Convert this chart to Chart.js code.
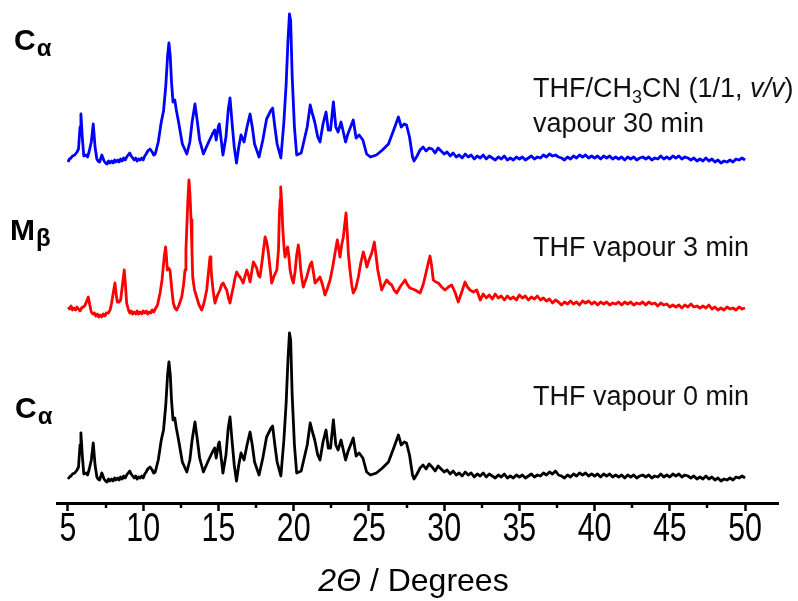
<!DOCTYPE html>
<html><head><meta charset="utf-8">
<script src="https://cdn.jsdelivr.net/npm/chart.js@4.4.1/dist/chart.umd.min.js"></script>
<style>html,body{margin:0;padding:0;background:#fff;overflow:hidden}</style>
</head><body>
<canvas id="c" width="798" height="601"></canvas>
<script>
// ---- data ----
const xTickValues = [5,10,15,20,25,30,35,40,45,50];
const xMinorTicks = [7.5,12.5,17.5,22.5,27.5,32.5,37.5,42.5,47.5];

// C-alpha, THF vapour 0 min (black)
const blackAngles = [5.00,5.10,5.20,5.30,5.45,5.60,5.70,5.80,5.86,5.95,
6.05,6.20,6.30,6.40,6.55,6.68,6.80,6.92,7.00,7.10,
7.25,7.40,7.50,7.60,7.70,7.80,7.90,8.00,8.10,8.20,
8.30,8.40,8.50,8.60,8.70,8.80,8.90,9.00,9.10,9.20,
9.30,9.40,9.50,9.60,9.70,9.80,9.90,10.00,10.10,10.20,
10.30,10.45,10.60,10.70,10.80,11.00,11.20,11.35,11.50,11.62,
11.71,11.80,11.88,11.98,12.10,12.20,12.35,12.60,12.90,13.10,
13.25,13.44,13.60,13.75,14.00,14.20,14.35,14.60,14.75,14.85,
15.00,15.06,15.20,15.30,15.50,15.65,15.77,15.90,16.05,16.20,
16.35,16.50,16.70,16.90,17.10,17.25,17.40,17.70,17.95,18.20,
18.50,18.60,18.75,18.90,19.15,19.35,19.50,19.62,19.72,19.80,
19.90,20.05,20.20,20.50,20.70,20.90,21.10,21.25,21.40,21.60,
21.75,21.95,22.15,22.30,22.45,22.64,22.80,22.95,23.15,23.30,
23.45,23.60,23.96,24.15,24.35,24.60,24.85,25.10,25.50,25.90,
26.30,26.65,26.96,27.15,27.35,27.50,27.70,27.90,28.00,28.20,
28.40,28.60,28.80,29.00,29.20,29.40,29.60,29.80,30.00,30.20,
30.40,30.60,30.80,31.00,31.20,31.40,31.60,31.80,32.00,32.20,
32.40,32.60,32.80,33.00,33.20,33.40,33.60,33.80,34.00,34.20,
34.40,34.60,34.80,35.00,35.20,35.40,35.60,35.80,36.00,36.20,
36.40,36.60,36.80,37.00,37.20,37.40,37.60,37.80,38.00,38.20,
38.40,38.60,38.80,39.00,39.20,39.40,39.60,39.80,40.00,40.20,
40.40,40.60,40.80,41.00,41.20,41.40,41.60,41.80,42.00,42.20,
42.40,42.60,42.80,43.00,43.20,43.40,43.60,43.80,44.00,44.20,
44.40,44.60,44.80,45.00,45.20,45.40,45.60,45.80,46.00,46.20,
46.40,46.60,46.80,47.00,47.20,47.40,47.60,47.80,48.00,48.20,
48.40,48.60,48.80,49.00,49.20,49.40,49.60,49.80,50.00];
const blackCounts = [-2,0,1,3,4,7,10,32,44,22,
3,4,2,7,17,34,12,0,-2,-3,
4,-2,-4,-5,-2,-4,-2,-4,-1,-3,
-1,-3,0,-2,1,-1,2,4,6,3,
1,-1,1,-2,0,-1,1,-1,3,5,
8,10,7,4,5,17,37,47,72,102,
115,102,77,57,59,49,37,15,5,17,
37,55,37,19,5,12,17,25,29,19,
33,35,17,4,22,49,60,37,12,-4,
12,24,17,32,45,32,15,2,19,40,
49,51,32,15,1,37,74,117,144,137,
82,32,4,6,19,32,54,45,37,22,
17,35,47,29,29,57,32,27,37,27,
17,25,39,21,24,19,5,2,4,9,
15,29,42,32,35,34,22,2,-2,3,
9,12,8,13,10,6,11,8,5,7,
3,6,2,4,1,5,2,4,0,3,
1,4,0,3,1,-1,2,0,3,-1,
1,-1,2,0,2,-1,1,3,0,2,
1,4,2,5,3,6,2,1,-1,2,
0,3,1,4,2,4,1,3,1,3,
0,3,1,3,0,2,0,2,-1,2,
0,2,-1,1,2,0,2,-1,1,0,
3,0,2,0,3,1,3,0,2,1,
-1,1,-2,0,-2,1,-2,0,-3,-1,
-4,-2,-3,-1,-3,0,-1,1,-1];

// C-alpha, THF/CH3CN vapour 30 min (blue)
const blueAngles = blackAngles.slice();
const blueCounts = [-2,1,2,4,5,8,11,33,46,23,
4,5,3,8,18,36,13,1,-1,-2,
5,-1,-3,-4,-1,-3,-1,-3,0,-2,
0,-2,1,-1,2,0,3,5,7,4,
2,0,2,-1,1,0,2,0,4,6,
9,11,8,5,6,18,38,49,74,104,
117,103,78,58,60,50,38,16,6,18,
38,56,38,20,6,13,18,26,30,20,
34,36,18,5,23,50,62,38,13,-3,
13,25,18,33,46,33,16,3,20,41,
50,52,33,16,2,38,76,119,146,139,
84,33,5,7,20,33,55,46,38,23,
18,36,48,30,30,58,33,28,38,28,
18,26,40,22,25,20,6,3,5,10,
16,30,43,33,36,35,23,3,-1,4,
10,13,9,12,11,7,12,9,6,8,
4,7,3,5,2,6,3,5,1,4,
2,5,1,4,2,0,3,1,4,0,
2,0,3,1,3,0,2,4,1,3,
2,5,3,6,4,5,3,2,0,3,
1,4,2,5,3,5,2,4,2,4,
1,4,2,4,1,3,1,3,0,3,
1,3,0,2,3,1,3,0,2,1,
4,1,3,1,4,2,4,1,3,2,
0,2,-1,1,-1,2,-1,1,-2,0,
-3,-1,-2,0,-2,1,0,2,0];

// M-beta, THF vapour 3 min (red)
const redAngles = [5.02,5.10,5.20,5.30,5.40,5.50,5.60,5.70,5.80,5.90,
6.00,6.10,6.20,6.30,6.35,6.45,6.55,6.65,6.75,6.85,
6.95,7.05,7.15,7.25,7.35,7.45,7.55,7.68,7.80,7.90,
8.02,8.12,8.21,8.28,8.39,8.50,8.62,8.74,8.82,8.90,
9.02,9.12,9.20,9.30,9.40,9.50,9.60,9.70,9.80,9.90,
10.00,10.10,10.20,10.30,10.40,10.50,10.60,10.70,10.80,10.95,
11.12,11.25,11.33,11.41,11.49,11.55,11.60,11.68,11.78,11.89,
12.00,12.11,12.23,12.38,12.56,12.68,12.78,12.84,12.89,12.97,
13.04,13.11,13.18,13.24,13.29,13.41,13.55,13.71,13.89,14.04,
14.22,14.34,14.44,14.50,14.55,14.66,14.77,14.94,15.10,15.20,
15.32,15.44,15.55,15.66,15.77,15.87,15.99,16.10,16.21,16.32,
16.43,16.55,16.65,16.77,16.88,16.99,17.10,17.21,17.32,17.43,
17.54,17.65,17.76,17.93,18.10,18.21,18.32,18.43,18.54,18.70,
18.88,18.99,19.05,19.10,19.14,19.21,19.28,19.36,19.43,19.52,
19.60,19.69,19.76,19.87,19.98,20.09,20.20,20.31,20.39,20.47,
20.56,20.64,20.75,20.87,20.99,21.09,21.20,21.31,21.42,21.59,
21.75,21.92,22.08,22.25,22.42,22.58,22.75,22.90,22.99,23.08,
23.19,23.30,23.39,23.48,23.56,23.63,23.74,23.86,23.96,24.13,
24.30,24.46,24.63,24.74,24.86,25.01,25.19,25.36,25.47,25.59,
25.72,25.85,26.00,26.18,26.34,26.52,26.67,26.85,27.07,27.40,
27.57,27.73,28.07,28.40,28.60,28.73,28.90,29.06,29.16,29.28,
29.45,29.61,29.84,30.06,30.28,30.50,30.72,30.94,31.17,31.39,
31.55,31.72,31.94,32.17,32.40,32.60,32.80,33.00,33.20,33.40,
33.60,33.80,34.00,34.20,34.40,34.60,34.80,35.00,35.20,35.40,
35.60,35.80,36.00,36.20,36.40,36.60,36.80,37.00,37.20,37.40,
37.60,37.80,38.00,38.20,38.40,38.60,38.80,39.00,39.20,39.40,
39.60,39.80,40.00,40.20,40.40,40.60,40.80,41.00,41.20,41.40,
41.60,41.80,42.00,42.20,42.40,42.60,42.80,43.00,43.20,43.40,
43.60,43.80,44.00,44.20,44.40,44.60,44.80,45.00,45.20,45.40,
45.60,45.80,46.00,46.20,46.40,46.60,46.80,47.00,47.20,47.40,
47.60,47.80,48.00,48.20,48.40,48.60,48.80,49.00,49.20,49.40,
49.60,49.80,50.00];
const redCounts = [1,-1,2,-2,0,-2,1,-1,-3,0,
1,2,5,9,11,3,-4,-6,-5,-8,
-6,-9,-7,-9,-6,-8,-5,-5,-2,5,
16,25,13,6,6,8,23,38,23,5,
-2,-5,-3,-6,-4,-6,-3,-6,-4,-6,
-3,-5,-3,-6,-4,-5,-2,-4,-1,3,
15,28,41,53,61,50,38,40,38,20,
5,0,-2,3,11,23,38,58,78,108,
128,113,88,58,31,18,11,3,-2,5,
18,36,51,43,31,16,5,13,18,23,
25,21,18,10,5,13,21,30,36,33,
31,28,25,32,38,33,26,36,46,43,
40,33,31,50,71,66,55,40,25,32,
38,58,93,108,121,103,78,60,51,58,
61,50,38,30,25,36,53,63,53,38,
28,21,26,31,38,43,46,36,25,28,
31,23,13,20,28,40,55,68,60,51,
63,71,83,95,76,55,38,23,15,20,
31,45,56,50,41,48,55,66,53,38,
28,18,23,28,25,23,18,15,21,28,
23,20,18,15,23,31,42,52,43,28,
26,25,21,18,21,23,16,6,16,26,
21,18,16,18,8,14,10,13,9,14,
10,12,8,12,9,11,8,13,10,12,
8,11,9,12,8,10,7,9,5,8,
6,3,6,4,7,4,6,3,7,5,
7,4,6,3,6,4,6,3,5,4,
6,3,6,4,6,3,5,4,6,3,
6,4,5,2,5,3,4,1,3,1,
3,0,3,1,4,1,2,0,2,0,
3,-1,1,-2,0,-2,1,-1,0,-2,
1,-1,0];

// vertical stacking offsets of the three patterns
const blackOffset = 26;
const redOffset = 195;
const blueOffset = 343;

function pts(angles, counts, off){ return angles.map((a,i)=>({x:a, y:counts[i]+off})); }

const FONT = "'Liberation Sans', Arial, sans-serif";

const annot = {
  id:'annot',
  afterDraw(chart){
    const ctx = chart.ctx, xs = chart.scales.x, bottom = chart.chartArea.bottom;
    ctx.save();
    // minor ticks
    ctx.strokeStyle = '#000'; ctx.lineWidth = 2.5;
    xMinorTicks.forEach(v=>{
      const p = Math.round(xs.getPixelForValue(v));
      ctx.beginPath(); ctx.moveTo(p, bottom); ctx.lineTo(p, bottom+5); ctx.stroke();
    });
    ctx.fillStyle = '#000';
    // condensed tick labels
    ctx.textAlign = 'center'; ctx.textBaseline = 'alphabetic';
    ctx.font = "40px " + FONT;
    xs.ticks.forEach(t=>{
      const p = xs.getPixelForValue(t.value);
      ctx.save(); ctx.translate(p, 541); ctx.scale(0.76, 1);
      ctx.fillText(String(t.value), 0, 0); ctx.restore();
    });
    ctx.textAlign = 'left';
    // axis title
    ctx.font = "italic 32px " + FONT;
    const w1 = ctx.measureText('2\u0398').width;
    ctx.font = "32px " + FONT;
    const w2 = ctx.measureText(' / Degrees').width;
    const cx = (chart.chartArea.left + chart.chartArea.right)/2 - 4;
    let x0 = cx - (w1+w2)/2;
    ctx.font = "italic 32px " + FONT; ctx.fillText('2\u0398', x0, 591);
    ctx.font = "32px " + FONT; ctx.fillText(' / Degrees', x0 + w1, 591);
    // phase labels
    function phase(main, sub, x, y){
      ctx.font = "bold 30px " + FONT; ctx.fillText(main, x, y);
      const w = ctx.measureText(main).width;
      ctx.font = "bold 24px " + FONT; ctx.fillText(sub, x + w + 1, y + 6);
    }
    phase('C', '\u03b1', 14, 50);
    phase('M', '\u03b2', 10, 240);
    phase('C', '\u03b1', 15, 418);
    // condition labels
    ctx.fillStyle = '#111';
    let x = 533;
    ctx.font = "27px " + FONT; ctx.fillText('THF/CH', x, 97); x += ctx.measureText('THF/CH').width;
    ctx.font = "18px " + FONT; ctx.fillText('3', x, 103); x += ctx.measureText('3').width;
    ctx.font = "27px " + FONT; ctx.fillText('CN (1/1, ', x, 97); x += ctx.measureText('CN (1/1, ').width;
    ctx.font = "italic 27px " + FONT; ctx.fillText('v/v', x, 97); x += ctx.measureText('v/v').width;
    ctx.font = "27px " + FONT; ctx.fillText(')', x, 97);
    ctx.fillText('vapour 30 min', 533, 132);
    ctx.fillText('THF vapour 3 min', 533, 256);
    ctx.fillText('THF vapour 0 min', 533, 405);
    ctx.restore();
  }
};

new Chart(document.getElementById('c'), {
  type:'line',
  data:{ datasets:[
    {label:'Ca 0 min', data:pts(blackAngles, blackCounts, blackOffset), borderColor:'#000000'},
    {label:'Mb 3 min', data:pts(redAngles, redCounts, redOffset), borderColor:'#ff0000'},
    {label:'Ca 30 min', data:pts(blueAngles, blueCounts, blueOffset), borderColor:'#0000ff'}
  ]},
  options:{
    responsive:false, animation:false, devicePixelRatio:1,
    layout:{padding:{left:57, right:20, top:3, bottom:0}},
    elements:{ line:{borderWidth:2.8, tension:0, fill:false, borderJoinStyle:'round'}, point:{radius:0} },
    plugins:{ legend:{display:false}, tooltip:{enabled:false} },
    scales:{
      x:{ type:'linear', min:4.27, max:52.19, position:'bottom',
        afterBuildTicks:(s)=>{ s.ticks = xTickValues.map(v=>({value:v})); },
        afterFit:(s)=>{ s.height = 98; },
        border:{display:true, color:'#000', width:3},
        grid:{display:true, drawOnChartArea:false, drawTicks:true, tickLength:8, tickWidth:2.5, tickColor:'#000'},
        ticks:{ display:false, autoSkip:false, maxRotation:0 }
      },
      y:{ display:false, min:0, max:500 }
    }
  },
  plugins:[annot]
});
</script>
</body></html>
